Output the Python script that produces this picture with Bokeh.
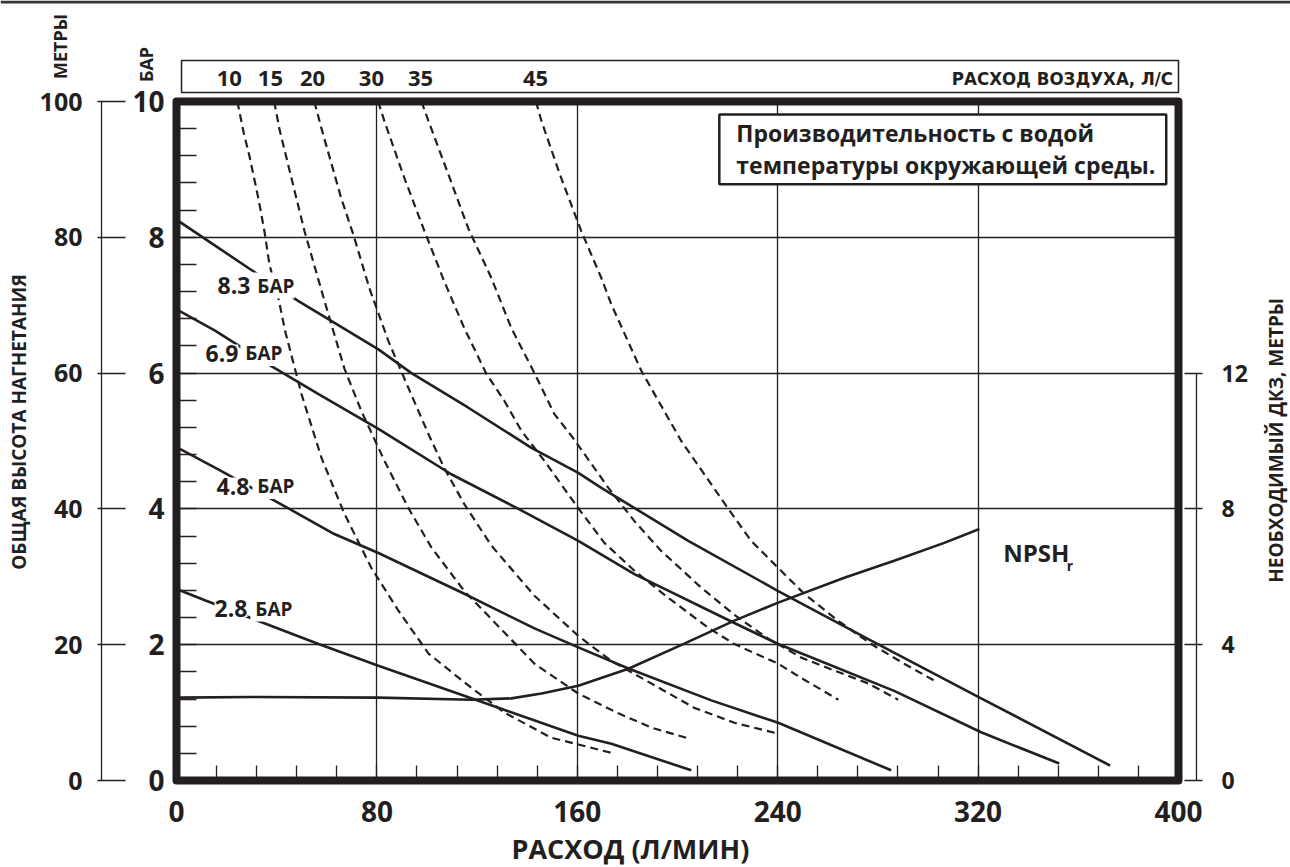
from math import pi
from bokeh.plotting import figure
from bokeh.layouts import column
from bokeh.models import (Range1d, LinearAxis, FixedTicker, SingleIntervalTicker, Label,
                          LabelSet, BoxAnnotation, ColumnDataSource)
from bokeh.core.properties import value
from bokeh.embed import file_html
from bokeh.resources import INLINE

# ---------------- data ----------------
FLOW_TICKS = [0, 80, 160, 240, 320, 400]
BAR_TICKS = [0, 2, 4, 6, 8, 10]
METER_TICKS = [0, 20, 40, 60, 80, 100]
NPSH_TICKS = [0, 4, 8, 12]

# pump curves (flow L/min, head bar)
P83_X = [0, 29, 48.7, 80.6, 93.8, 116.5, 141.7, 160.4, 169.6, 204.3, 240.2, 277.3, 321.2, 372.7]
P83_Y = [8.26, 7.54, 7.06, 6.35, 6.00, 5.49, 4.90, 4.53, 4.31, 3.53, 2.79, 2.06, 1.21, 0.22]
P69_X = [0, 15.2, 36.7, 56.7, 80.6, 109.7, 136.5, 160.4, 182.8, 222.7, 240.2, 286.5, 321.2, 352.4]
P69_Y = [6.94, 6.63, 6.13, 5.69, 5.18, 4.51, 4.00, 3.53, 3.04, 2.32, 2.01, 1.32, 0.71, 0.25]
P48_X = [0, 17.2, 40.7, 63.0, 80.6, 114.9, 142.9, 160.4, 180.4, 213.5, 240.2, 285.3]
P48_Y = [4.91, 4.57, 4.09, 3.63, 3.35, 2.75, 2.24, 1.96, 1.65, 1.18, 0.85, 0.15]
P28_X = [0, 11.6, 32.7, 56.7, 80.6, 117.7, 160.4, 173.6, 205.5]
P28_Y = [2.82, 2.65, 2.35, 2.01, 1.69, 1.21, 0.66, 0.54, 0.15]
PRESSURES = ["8.3", "6.9", "4.8", "2.8"]

# NPSHr (flow L/min, metres)
NPSH_X = [0, 29.9, 80.6, 117.7, 133.7, 145.7, 160.4, 180.4, 202.7, 222.7, 240.2, 266.6, 286.5, 306.5, 320.5]
NPSH_M = [2.44, 2.46, 2.44, 2.38, 2.42, 2.56, 2.79, 3.29, 4.03, 4.71, 5.24, 5.97, 6.47, 7.00, 7.41]

# air consumption curves (flow L/min, head bar)
A10_X = [24.3, 26.7, 29.1, 32.7, 35.1, 37.1, 40.7, 43.3, 49.9, 57.9, 67.0, 77.8, 88.6, 100.6, 116.5, 130.9, 149.6, 160.4, 174.4]
A10_Y = [10.0, 9.56, 9.2, 8.57, 8.09, 7.6, 7.1, 6.63, 5.69, 4.75, 3.93, 3.13, 2.50, 1.87, 1.40, 1.0, 0.63, 0.53, 0.40]
A15_X = [39.0, 41.1, 51.1, 59.1, 67.0, 73.8, 83.0, 92.6, 101.8, 114.9, 130.9, 142.9, 160.4, 176.4, 189.5, 204.3]
A15_Y = [10.0, 9.59, 8.09, 7.06, 6.07, 5.44, 4.71, 4.01, 3.43, 2.79, 2.18, 1.72, 1.28, 0.99, 0.78, 0.62]
A20_X = [55.0, 57.9, 65.8, 70.6, 77.0, 84.6, 92.6, 100.6, 106.9, 114.9, 125.7, 142.9, 160.4, 173.6, 189.5, 206.7, 222.7, 240.2]
A20_Y = [10.0, 9.60, 8.57, 8.04, 7.25, 6.47, 5.78, 5.10, 4.60, 4.07, 3.46, 2.72, 2.13, 1.76, 1.43, 1.07, 0.85, 0.69]
A30_X = [80.5, 83.0, 91.0, 99.0, 106.9, 114.9, 123.7, 130.9, 137.7, 146.8, 160.4, 170.8, 182.8, 196.3, 212.3, 222.7, 240.2, 249.4, 264.2]
A30_Y = [10.0, 9.71, 8.87, 8.09, 7.35, 6.66, 5.99, 5.59, 5.15, 4.71, 4.01, 3.50, 3.09, 2.69, 2.25, 2.01, 1.72, 1.51, 1.19]
A35_X = [97.8, 100.6, 108.5, 116.5, 125.7, 133.7, 142.9, 150.8, 158.4, 172.4, 182.8, 193.5, 209.5, 222.7, 236.2, 249.4, 262.6, 276.1, 288.1]
A35_Y = [10.0, 9.71, 8.93, 8.13, 7.40, 6.66, 6.00, 5.40, 5.04, 4.31, 3.82, 3.38, 2.84, 2.44, 2.09, 1.81, 1.62, 1.43, 1.19]
A45_X = [143.5, 145.7, 153.6, 161.6, 169.6, 173.6, 185.6, 201.5, 220.3, 229.4, 240.2, 250.6, 264.2, 277.3, 290.5, 302.5]
A45_Y = [10.0, 9.71, 8.87, 8.09, 7.40, 7.01, 6.03, 5.00, 4.00, 3.53, 3.13, 2.75, 2.35, 2.01, 1.72, 1.47]
AIR_LABELS = ["10", "15", "20", "30", "35", "45"]
AIR_LABEL_X = [21.1, 37.5, 54.3, 77.8, 97.4, 143.3]

INK = "#231f20"
FONT = "Open Sans"
NARROW = "'Liberation Sans Narrow', 'Noto Sans Condensed', 'DejaVu Sans Condensed', 'Open Sans'"

# ---------------- layout constants (pixels) ----------------
W, H = 1290, 867
FL, FR, FT, FB = 176, 1178, 101, 780
XMAX, YMAX = 400, 10
SX = (FR - FL) / XMAX
SY = (FB - FT) / YMAX

# ---------------- main figure ----------------
p = figure(width=W, height=H, x_range=Range1d(0, XMAX), y_range=Range1d(0, YMAX),
           output_backend="svg", toolbar_location=None,
           min_border_left=FL, min_border_right=W - FR, min_border_top=FT, min_border_bottom=H - FB)
p.extra_y_ranges = {"m": Range1d(0, 100), "npsh": Range1d(0, 20)}
p.background_fill_color = "white"
p.border_fill_color = "white"
p.outline_line_color = INK
p.outline_line_width = 8
p.outline_line_join = "round"

def style_labels(ax, size):
    ax.major_label_text_font = FONT
    ax.major_label_text_font_style = "bold"
    ax.major_label_text_font_size = f"{size}px"
    ax.major_label_text_color = INK

# bottom axis
xa = p.xaxis[0]
xa.ticker = SingleIntervalTicker(interval=80, num_minor_ticks=5)
xa.major_tick_in = 0
xa.major_tick_out = 0
xa.minor_tick_in = 15
xa.minor_tick_out = 0
xa.minor_tick_line_color = INK
xa.minor_tick_line_width = 1.3
xa.axis_line_color = None
xa.major_label_standoff = 20
style_labels(xa, 28)

# left bar axis
ya = p.yaxis[0]
ya.ticker = SingleIntervalTicker(interval=2, num_minor_ticks=5)
ya.major_tick_in = 0
ya.major_tick_out = 0
ya.minor_tick_in = 20
ya.minor_tick_out = 0
ya.minor_tick_line_color = INK
ya.minor_tick_line_width = 1.3
ya.axis_line_color = None
ya.major_label_standoff = 12
style_labels(ya, 28)
ya.axis_label = "\u00a0"
ya.axis_label_text_font_size = "20px"
ya.axis_label_standoff = 3

# left metres axis
ma = LinearAxis(y_range_name="m", ticker=FixedTicker(ticks=METER_TICKS))
ma.major_tick_in = 24
ma.major_tick_out = 4
ma.minor_tick_line_color = None
ma.axis_line_color = INK
ma.axis_line_width = 1.3
ma.major_tick_line_color = INK
ma.major_tick_line_width = 1.3
ma.major_label_standoff = 15
style_labels(ma, 25)
p.add_layout(ma, "left")

# right spacer + NPSH axis
sp = LinearAxis(y_range_name="npsh", ticker=FixedTicker(ticks=[]))
sp.axis_line_color = None
sp.major_tick_line_color = None
sp.minor_tick_line_color = None
sp.major_tick_out = 0
sp.major_tick_in = 0
sp.major_label_standoff = 0
sp.axis_label = "\u00a0"
sp.axis_label_text_font_size = "10px"
sp.axis_label_standoff = 4
p.add_layout(sp, "right")

na = LinearAxis(y_range_name="npsh", ticker=FixedTicker(ticks=NPSH_TICKS), bounds=(0, 12))
na.major_tick_in = 12
na.major_tick_out = 6
na.minor_tick_line_color = None
na.axis_line_color = INK
na.axis_line_width = 1.3
na.major_tick_line_color = INK
na.major_tick_line_width = 1.3
na.major_label_standoff = 19
style_labels(na, 23)
p.add_layout(na, "right")

# grid
p.xgrid.ticker = FixedTicker(ticks=FLOW_TICKS[1:-1])
p.ygrid.ticker = FixedTicker(ticks=BAR_TICKS[1:-1])
for g in (p.xgrid[0], p.ygrid[0]):
    g.grid_line_color = INK
    g.grid_line_width = 1.3
    g.grid_line_alpha = 1.0

# air curves
for ax_, ay_ in [(A10_X, A10_Y), (A15_X, A15_Y), (A20_X, A20_Y), (A30_X, A30_Y), (A35_X, A35_Y), (A45_X, A45_Y)]:
    p.line(ax_, ay_, line_color=INK, line_width=2.2, line_dash="8 5")

# pump curves
for px_, py_ in [(P83_X, P83_Y), (P69_X, P69_Y), (P48_X, P48_Y), (P28_X, P28_Y)]:
    p.line(px_, py_, line_color=INK, line_width=2.6)

# NPSH
p.line(NPSH_X, NPSH_M, y_range_name="npsh", line_color=INK, line_width=2.6)

def lab(fig, text, x, y, size, align="left", baseline="middle", angle=0, bg=None, font=FONT):
    l = Label(x=x, y=y, text=text, text_font=font, text_font_size=f"{size}px",
              text_font_style="bold", text_color=INK, text_align=align,
              text_baseline=baseline, angle=angle)
    if bg is not None:
        l.background_fill_color = bg
    fig.add_layout(l)
    return l

# pressure labels (centre of the capitals)
PL_X = [16.4, 11.6, 16.0, 15.2]
PL_Y = [7.29, 6.296, 4.337, 2.533]
PU_X = [30.3, 25.5, 30.3, 29.5]
for t, x, y, ux in zip(PRESSURES, PL_X, PL_Y, PU_X):
    lab(p, t, x, y, 23, bg="white")
    lab(p, "\u00a0БАР", ux, y, 19, bg="white")

# NPSHr label
lab(p, "NPSH", 330.0, 3.351, 24)
lab(p, "r", 355.4, 3.166, 14)

# legend box
p.add_layout(BoxAnnotation(left=216.7, right=395.1, bottom=8.78, top=9.81,
                           fill_color="white", fill_alpha=1.0,
                           line_color=INK, line_alpha=1.0, line_width=2.5))
lab(p, "Производительность с водой", 223.5, 9.53, 23)
lab(p, "температуры окружающей среды.", 223.5, 9.07, 23)

# ---------------- transparent overlay sharing the same scales ----------------
ov = figure(width=W, height=H,
            x_range=Range1d(-FL / SX, XMAX + (W - FR) / SX),
            y_range=Range1d(-(H - FB) / SY, YMAX + FT / SY),
            x_axis_type=None, y_axis_type=None, output_backend="svg",
            toolbar_location=None, min_border=0,
            min_border_left=0, min_border_right=0, min_border_top=0, min_border_bottom=0)
ov.background_fill_color = None
ov.border_fill_color = None
ov.outline_line_color = None
ov.margin = (-H, 0, 0, 0)
for fig in (ov, p):
    try:
        fig.frame_align = False
    except Exception:
        pass

X_LEFT, X_RIGHT = -FL / SX, XMAX + (W - FR) / SX
Y_TOP = YMAX + FT / SY
# page rule at the very top
ov.add_layout(BoxAnnotation(left=X_LEFT, right=X_RIGHT, top=Y_TOP, bottom=Y_TOP - 3 / SY,
                            fill_color=INK, fill_alpha=0.9, line_color=None))
# air-consumption header box
ov.add_layout(BoxAnnotation(left=2.0, right=XMAX, top=10.604, bottom=10.133,
                            fill_color=None, line_color=INK, line_alpha=1.0, line_width=1.5))
src = ColumnDataSource(dict(x=AIR_LABEL_X, y=[10.339] * len(AIR_LABEL_X), t=AIR_LABELS))
ov.add_layout(LabelSet(x="x", y="y", text="t", source=src,
                       text_align="center", text_baseline="middle", text_font=value(FONT),
                       text_font_size=value("22px"), text_font_style="bold",
                       text_color=INK))
lab(ov, "РАСХОД ВОЗДУХА, Л/С", 397.8, 10.339, 18.5, align="right", font=NARROW)

# axis titles
lab(ov, "МЕТРЫ", -46.7, 10.81, 18, align="center", angle=pi / 2)
lab(ov, "БАР", -12.0, 10.545, 18, align="center", angle=pi / 2)
lab(ov, "ОБЩАЯ ВЫСОТА НАГНЕТАНИЯ", -62.7, 5.28, 19, align="center", angle=pi / 2)
lab(ov, "НЕОБХОДИМЫЙ ДКЗ, МЕТРЫ", 439.1, 5.01, 19, align="center", angle=pi / 2)
lab(ov, "РАСХОД (Л/МИН)", 181.2, -1.0, 27, align="center")

layout = column(p, ov, spacing=0)
open("out.html", "w").write(file_html(layout, INLINE))
